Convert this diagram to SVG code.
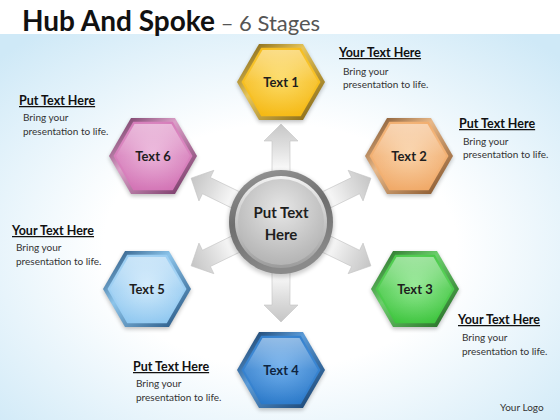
<svg xmlns="http://www.w3.org/2000/svg" width="560" height="420" viewBox="0 0 560 420">
<style>
.title{font-family:Lato,"Liberation Sans",sans-serif;font-weight:bold;font-size:28px;fill:#111}
.sub{font-family:Lato,"Liberation Sans",sans-serif;font-weight:normal;font-size:22px;fill:#555}
.hd{font-family:Lato,"Liberation Sans",sans-serif;font-weight:bold;font-size:12.5px;fill:#111;text-decoration:underline}
.bd{font-family:Lato,"Liberation Sans",sans-serif;font-size:10px;fill:#333}
.lbl{font-family:Lato,"Liberation Sans",sans-serif;font-weight:bold;font-size:13px;fill:#1e1e1e;text-anchor:middle}
.hub{font-family:Lato,"Liberation Sans",sans-serif;font-weight:bold;font-size:15px;fill:#1e1e1e;text-anchor:middle}
.logo{font-family:Lato,"Liberation Sans",sans-serif;font-size:10px;fill:#333}
.arrow{fill:url(#arrowG);stroke:#c4c4c4;stroke-width:0.6}
.gloss{fill:url(#glossG)}
.shadow{fill:#000;opacity:0.25;filter:url(#blur)}
</style>
<defs>
<radialGradient id="bgG" cx="50%" cy="55%" r="70%">
<stop offset="0.45" stop-color="#ffffff"/>
<stop offset="1" stop-color="#cfe9f7"/>
</radialGradient>
<linearGradient id="arrowG" gradientUnits="userSpaceOnUse" x1="48" y1="0" x2="99" y2="0">
<stop offset="0" stop-color="#ffffff"/>
<stop offset="0.55" stop-color="#dedede"/>
<stop offset="1" stop-color="#c6c6c6"/>
</linearGradient>
<linearGradient id="glossG" x1="0" y1="0" x2="0" y2="1">
<stop offset="0" stop-color="#fff" stop-opacity="0.45"/>
<stop offset="0.5" stop-color="#fff" stop-opacity="0.08"/>
<stop offset="1" stop-color="#fff" stop-opacity="0"/>
</linearGradient>
<filter id="blur" x="-20%" y="-20%" width="140%" height="140%"><feGaussianBlur stdDeviation="2"/></filter>
<polygon id="hexO" points="44,0 22,38.1 -22,38.1 -44,0 -22,-38.1 22,-38.1"/>
<polygon id="hexI" points="39.5,0 19.75,34.2 -19.75,34.2 -39.5,0 -19.75,-34.2 19.75,-34.2"/>
<polygon id="hexG" points="37,0 18.5,32 -18.5,32 -37,0 -18.5,-32 18.5,-32"/>
<linearGradient id="b1" x1="0" y1="0" x2="1" y2="1"><stop offset="0" stop-color="#6e5208"/><stop offset="0.4" stop-color="#e6c55a"/><stop offset="1" stop-color="#7a5c0c"/></linearGradient>
<linearGradient id="b2" x1="0" y1="0" x2="1" y2="1"><stop offset="0" stop-color="#6e4420"/><stop offset="0.4" stop-color="#e8b888"/><stop offset="1" stop-color="#7a4a22"/></linearGradient>
<linearGradient id="b3" x1="0" y1="0" x2="1" y2="1"><stop offset="0" stop-color="#1e5e1e"/><stop offset="0.4" stop-color="#6ccf6c"/><stop offset="1" stop-color="#1f621f"/></linearGradient>
<linearGradient id="b4" x1="0" y1="0" x2="1" y2="1"><stop offset="0" stop-color="#0e2f55"/><stop offset="0.4" stop-color="#5b9bd8"/><stop offset="1" stop-color="#123a66"/></linearGradient>
<linearGradient id="b5" x1="0" y1="0" x2="1" y2="1"><stop offset="0" stop-color="#1a4570"/><stop offset="0.4" stop-color="#8cc4ea"/><stop offset="1" stop-color="#1d4c7a"/></linearGradient>
<linearGradient id="b6" x1="0" y1="0" x2="1" y2="1"><stop offset="0" stop-color="#5e2650"/><stop offset="0.4" stop-color="#dba0c8"/><stop offset="1" stop-color="#6a2c5a"/></linearGradient>
<radialGradient id="f1" cx="50%" cy="45%" r="60%"><stop offset="0" stop-color="#fcd85a"/><stop offset="1" stop-color="#f5b812"/></radialGradient>
<radialGradient id="f2" cx="50%" cy="45%" r="60%"><stop offset="0" stop-color="#f9cfa2"/><stop offset="1" stop-color="#f0a866"/></radialGradient>
<radialGradient id="f3" cx="50%" cy="45%" r="60%"><stop offset="0" stop-color="#8ae68a"/><stop offset="1" stop-color="#3cc43c"/></radialGradient>
<radialGradient id="f4" cx="50%" cy="45%" r="60%"><stop offset="0" stop-color="#64a8ea"/><stop offset="1" stop-color="#2a78c8"/></radialGradient>
<radialGradient id="f5" cx="50%" cy="45%" r="60%"><stop offset="0" stop-color="#cde8fb"/><stop offset="1" stop-color="#8ec7f0"/></radialGradient>
<radialGradient id="f6" cx="50%" cy="45%" r="60%"><stop offset="0" stop-color="#eab0d8"/><stop offset="1" stop-color="#d272b4"/></radialGradient>
<linearGradient id="hubRing" x1="0" y1="0" x2="0.3" y2="1"><stop offset="0" stop-color="#9a9a9a"/><stop offset="0.5" stop-color="#6e6e6e"/><stop offset="1" stop-color="#8a8a8a"/></linearGradient>
<linearGradient id="hubMid" x1="0" y1="0" x2="0" y2="1"><stop offset="0" stop-color="#f2f2f2"/><stop offset="1" stop-color="#9c9c9c"/></linearGradient>
<radialGradient id="hubIn" cx="50%" cy="35%" r="65%"><stop offset="0" stop-color="#e6e6e6"/><stop offset="1" stop-color="#b4b4b4"/></radialGradient>
</defs>

<rect width="560" height="420" fill="#ffffff"/>
<rect x="0" y="34" width="560" height="386" fill="url(#bgG)"/>

<text x="22" y="31" class="title">Hub And Spoke<tspan class="sub"> – 6 Stages</tspan></text>

<g id="connectors">
<path class="arrow" transform="translate(281,222) rotate(-90)" d="M48,-9 L81,-9 L81,-17 L98,0 L81,17 L81,9 L48,9 Z"/>
<path class="arrow" transform="translate(281,222) rotate(-26)" d="M48,-9 L83,-9 L83,-17 L100,0 L83,17 L83,9 L48,9 Z"/>
<path class="arrow" transform="translate(281,222) rotate(26)" d="M48,-9 L83,-9 L83,-17 L100,0 L83,17 L83,9 L48,9 Z"/>
<path class="arrow" transform="translate(281,222) rotate(90)" d="M48,-9 L83,-9 L83,-17 L100,0 L83,17 L83,9 L48,9 Z"/>
<path class="arrow" transform="translate(281,222) rotate(154)" d="M48,-9 L83,-9 L83,-17 L100,0 L83,17 L83,9 L48,9 Z"/>
<path class="arrow" transform="translate(281,222) rotate(206)" d="M48,-9 L83,-9 L83,-17 L100,0 L83,17 L83,9 L48,9 Z"/>
</g>

<g id="hub" transform="translate(281,222)">
<circle r="53" fill="#000" opacity="0.2" filter="url(#blur)" cy="2"/>
<circle r="52" fill="url(#hubRing)"/>
<circle r="46" fill="url(#hubMid)"/>
<circle r="43" fill="url(#hubIn)"/>
<text class="hub" y="-4">Put Text</text>
<text class="hub" y="18">Here</text>
</g>

<g id="node1" transform="translate(281,82)">
<use href="#hexO" class="shadow" y="2"/>
<use href="#hexO" fill="url(#b1)"/>
<use href="#hexI" fill="url(#f1)"/>
<use href="#hexG" class="gloss"/>
<text class="lbl" y="4.5">Text 1</text>
</g>
<g id="node2" transform="translate(409,156)">
<use href="#hexO" class="shadow" y="2"/>
<use href="#hexO" fill="url(#b2)"/>
<use href="#hexI" fill="url(#f2)"/>
<use href="#hexG" class="gloss"/>
<text class="lbl" y="4.5">Text 2</text>
</g>
<g id="node3" transform="translate(415,289)">
<use href="#hexO" class="shadow" y="2"/>
<use href="#hexO" fill="url(#b3)"/>
<use href="#hexI" fill="url(#f3)"/>
<use href="#hexG" class="gloss"/>
<text class="lbl" y="4.5">Text 3</text>
</g>
<g id="node4" transform="translate(281,370)">
<use href="#hexO" class="shadow" y="2"/>
<use href="#hexO" fill="url(#b4)"/>
<use href="#hexI" fill="url(#f4)"/>
<use href="#hexG" class="gloss"/>
<text class="lbl" y="4.5" style="fill:#0f2540">Text 4</text>
</g>
<g id="node5" transform="translate(147,289)">
<use href="#hexO" class="shadow" y="2"/>
<use href="#hexO" fill="url(#b5)"/>
<use href="#hexI" fill="url(#f5)"/>
<use href="#hexG" class="gloss"/>
<text class="lbl" y="4.5">Text 5</text>
</g>
<g id="node6" transform="translate(153,156)">
<use href="#hexO" class="shadow" y="2"/>
<use href="#hexO" fill="url(#b6)"/>
<use href="#hexI" fill="url(#f6)"/>
<use href="#hexG" class="gloss"/>
<text class="lbl" y="4.5">Text 6</text>
</g>

<g id="callout1">
<text x="339" y="57" class="hd">Your Text Here</text>
<text x="343" y="75" class="bd">Bring your</text>
<text x="343" y="88" class="bd">presentation to life.</text>
</g>
<g id="callout2">
<text x="459" y="128" class="hd">Put Text Here</text>
<text x="463" y="145" class="bd">Bring your</text>
<text x="463" y="158" class="bd">presentation to life.</text>
</g>
<g id="callout3">
<text x="458" y="324" class="hd">Your Text Here</text>
<text x="462" y="341" class="bd">Bring your</text>
<text x="462" y="355" class="bd">presentation to life.</text>
</g>
<g id="callout4">
<text x="133" y="371" class="hd">Put Text Here</text>
<text x="136" y="387" class="bd">Bring your</text>
<text x="136" y="401" class="bd">presentation to life.</text>
</g>
<g id="callout5">
<text x="12" y="235" class="hd">Your Text Here</text>
<text x="16" y="251" class="bd">Bring your</text>
<text x="16" y="265" class="bd">presentation to life.</text>
</g>
<g id="callout6">
<text x="19" y="105" class="hd">Put Text Here</text>
<text x="23" y="121" class="bd">Bring your</text>
<text x="23" y="135" class="bd">presentation to life.</text>
</g>

<text x="500" y="411" class="logo">Your Logo</text>
</svg>
